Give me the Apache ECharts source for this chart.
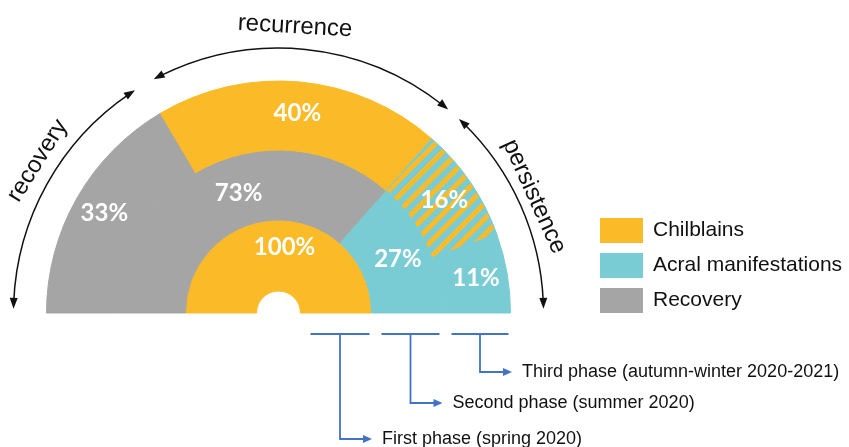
<!DOCTYPE html>
<html><head><meta charset="utf-8">
<script src="https://cdn.jsdelivr.net/npm/echarts@6/dist/echarts.min.js"></script>
<style>html,body{margin:0;padding:0;background:#fff}#c{width:849px;height:447px}</style>
</head><body><div id="c"></div>
<script>
// ---- data ----
const innerNames = ['Chilblains'];
const innerValues = [100];
const middleNames = ['Recovery', 'Acral manifestations'];
const middleValues = [73, 27];
const outerNames = ['Recovery', 'Chilblains', 'Chilblains + acral manifestations', 'Acral manifestations'];
const outerValues = [33, 40, 16, 11];
const legendNames = ['Chilblains', 'Acral manifestations', 'Recovery'];
const arcLabels = ['recovery', 'recurrence', 'persistence'];
const phaseLabels = ['First phase (spring 2020)', 'Second phase (summer 2020)', 'Third phase (autumn-winter 2020-2021)'];

// ---- style / layout ----
const ORANGE = '#FBBB29', TEAL = '#7ACCD4', GRAY = '#A5A5A5', BLUE = '#4472C4';
const COLORS = { 'Chilblains': ORANGE, 'Acral manifestations': TEAL, 'Recovery': GRAY };
const CX = 278.5, CY = 313;
const RINGS = [[22, 93], [93, 163], [163, 232]];
const D2R = Math.PI / 180;

function itemFor(name, value) {
  if (COLORS[name]) return { name, value, itemStyle: { color: COLORS[name], borderColor: COLORS[name], borderWidth: 1 } };
  return {
    name, value,
    itemStyle: {
      color: TEAL, borderColor: TEAL, borderWidth: 1,
      decal: { color: ORANGE, symbol: 'rect', dashArrayX: [1, 0], dashArrayY: [5, 6], rotation: -Math.PI / 4, symbolSize: 1 }
    }
  };
}

const labelStyle = { show: true, position: 'inside', formatter: '{c}%', color: '#fff', fontSize: 24, fontWeight: 'bold', fontFamily: 'Lato, "Open Sans", sans-serif' };
const labelOffsets = [[[6, -5]], [[14, 0], [0, 0]], [[0, 0], [0, 0], [0, 0], [0, 0]]];

function ring(idx, names, values) {
  return {
    type: 'pie', center: [CX, CY], radius: RINGS[idx],
    startAngle: 180, endAngle: 0, clockwise: true,
    avoidLabelOverlap: false, silent: true, animation: false,
    label: labelStyle, labelLine: { show: false },
    labelLayout: function (p) { const o = labelOffsets[idx][p.dataIndex] || [0, 0]; return { dx: o[0], dy: o[1] }; },
    emphasis: { disabled: true },
    data: names.map((n, i) => itemFor(n, values[i]))
  };
}

// ---- annotation graphics ----
const graphics = [];
function polar(r, deg) { return [CX + r * Math.cos(deg * D2R), CY - r * Math.sin(deg * D2R)]; }
function head(tip, dir, L, W, color) {
  const n = [-dir[1], dir[0]];
  const bx = tip[0] - dir[0] * L, by = tip[1] - dir[1] * L;
  graphics.push({ type: 'polygon', silent: true, shape: { points: [tip, [bx + n[0] * W, by + n[1] * W], [bx - n[0] * W, by - n[1] * W]] }, style: { fill: color } });
}
const ARC_R = 265;
const arcDefs = [
  { from: 122.8, to: 179.1, textR: 285, textA: 147.7 },
  { from: 50.2, to: 118.1, textR: 287, textA: 86.7 },
  { from: 0.9, to: 47.1, textR: 281, textA: 24.5 }
];
arcDefs.forEach((a, i) => {
  const L = 11, W = 4;
  const d = (L * 0.6) / ARC_R / D2R;
  graphics.push({ type: 'arc', silent: true, shape: { cx: CX, cy: CY, r: ARC_R, startAngle: -(a.to - d) * D2R, endAngle: -(a.from + d) * D2R, clockwise: true }, style: { stroke: '#111', lineWidth: 1.5, fill: null } });
  const tTo = a.to * D2R, tFrom = a.from * D2R;
  head(polar(ARC_R, a.to), [-Math.sin(tTo), -Math.cos(tTo)], L, W, '#111');
  head(polar(ARC_R, a.from), [Math.sin(tFrom), Math.cos(tFrom)], L, W, '#111');
  const p = polar(a.textR, a.textA);
  graphics.push({ type: 'text', silent: true, x: p[0], y: p[1], rotation: (a.textA - 90) * D2R,
    style: { text: arcLabels[i], fill: '#111', fontSize: 24, fontFamily: '"Liberation Sans", Arial, sans-serif', align: 'center', verticalAlign: 'middle' } });
});

// phase brackets under the right half of the rings
const BR_Y = 334;
const phaseY = [439, 403, 372];
RINGS.forEach((r, i) => {
  const x1 = CX + r[0] + 10, x2 = CX + r[1] - 2;
  const xm = (x1 + x2) / 2;
  graphics.push({ type: 'line', silent: true, shape: { x1, y1: BR_Y, x2, y2: BR_Y }, style: { stroke: BLUE, lineWidth: 1.8 } });
  graphics.push({ type: 'polyline', silent: true, shape: { points: [[xm, BR_Y], [xm, phaseY[i]], [xm + 26, phaseY[i]]] }, style: { stroke: BLUE, lineWidth: 1.8, fill: null } });
  head([xm + 32, phaseY[i]], [1, 0], 9, 4, BLUE);
  graphics.push({ type: 'text', silent: true, x: xm + 42, y: phaseY[i],
    style: { text: phaseLabels[i], fill: '#111', fontSize: 18, fontFamily: '"Liberation Sans", Arial, sans-serif', align: 'left', verticalAlign: 'middle' } });
});

const chart = echarts.init(document.getElementById('c'), null, { renderer: 'canvas' });
chart.setOption({
  backgroundColor: '#fff',
  animation: false,
  legend: {
    orient: 'vertical', left: 600, top: 218, padding: 0,
    itemWidth: 43, itemHeight: 25, itemGap: 10, icon: 'rect',
    selectedMode: false, data: legendNames,
    itemStyle: { borderWidth: 0 },
    textStyle: { fontSize: 21, lineHeight: 25, color: '#111', fontFamily: '"Liberation Sans", Arial, sans-serif', padding: [0, 0, 0, 5] }
  },
  series: [
    ring(0, innerNames, innerValues),
    ring(1, middleNames, middleValues),
    ring(2, outerNames, outerValues)
  ],
  graphic: { elements: graphics }
});
</script></body></html>
